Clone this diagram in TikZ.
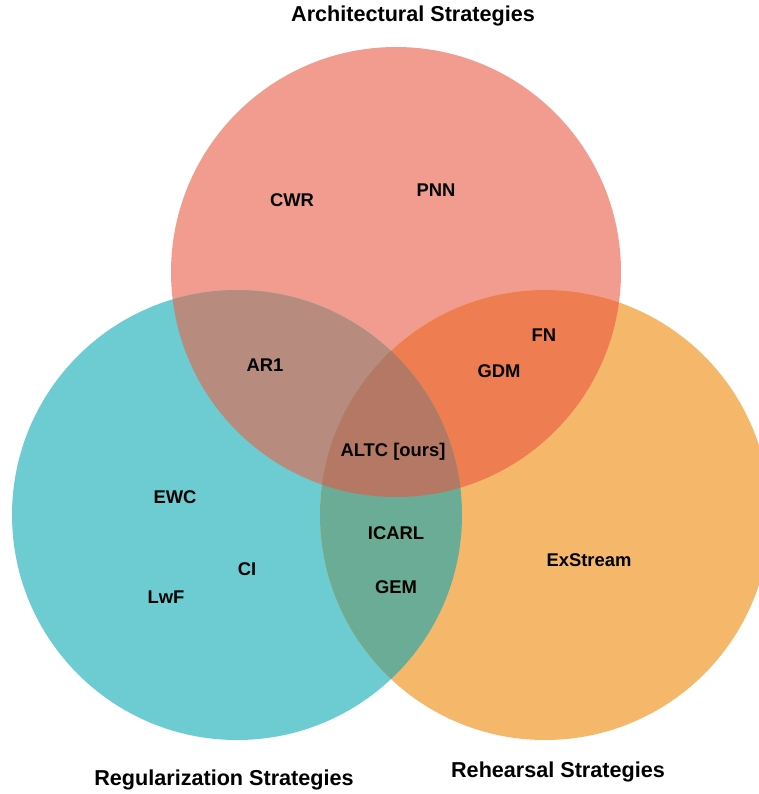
\documentclass[tikz,border=0pt]{standalone}
\usepackage{fontspec}
\setmainfont{Liberation Sans}
\usetikzlibrary{positioning,calc}

\definecolor{archc}{RGB}{241,156,143}
\definecolor{regc}{RGB}{108,204,210}
\definecolor{rehc}{RGB}{245,183,106}
\definecolor{archregc}{RGB}{184,139,127}
\definecolor{archrehc}{RGB}{238,126,82}
\definecolor{regrehc}{RGB}{107,172,150}
\definecolor{allc}{RGB}{181,120,100}

\begin{document}
\begin{tikzpicture}[x=1pt,y=-1pt,
        method/.style={font=\fontsize{18.4}{22}\selectfont\bfseries},
        setname/.style={font=\fontsize{21.6}{26}\selectfont\bfseries}]
        \useasboundingbox (0,0) rectangle (758,794);
        \coordinate (arch) at (396,272);
        \coordinate (reg) at (237,515);
        \coordinate (reh) at (545,515);

        \fill[archc] (arch) circle (225pt);
        \fill[regc] (reg) circle (225pt);
        \fill[rehc] (reh) circle (225pt);
        \begin{scope}
            \clip (arch) circle (225pt);
            \fill[archregc] (reg) circle (225pt);
            \fill[archrehc] (reh) circle (225pt);
        \end{scope}
        \begin{scope}
            \clip (reg) circle (225pt);
            \fill[regrehc] (reh) circle (225pt);
        \end{scope}
        \begin{scope}
            \clip (arch) circle (225pt);
            \clip (reg) circle (225pt);
            \fill[allc] (reh) circle (225pt);
        \end{scope}

        \node[setname] (archname) at (413,16) {Architectural Strategies};
        \node[setname] (regname) at (224,780) {Regularization Strategies};
        \node[setname] (rehname) at (558,772) {Rehearsal Strategies};

        \node[method] (cwr) at (292,200) {CWR};
        \node[method] (pnn) at (436,190) {PNN};
        \node[method] (ar1) at (265,365) {AR1};
        \node[method] (fn) at (544,335) {FN};
        \node[method] (gdm) at (499,371) {GDM};
        \node[method] (altc) at (393,452) {ALTC [ours]};
        \node[method] (ewc) at (175,497) {EWC};
        \node[method] (ci) at (247,569) {CI};
        \node[method] (lwf) at (166,597) {LwF};
        \node[method] (icarl) at (396,533) {ICARL};
        \node[method] (gem) at (396,587) {GEM};
        \node[method] (exstream) at (589,560) {ExStream};
    \end{tikzpicture}
\end{document}
